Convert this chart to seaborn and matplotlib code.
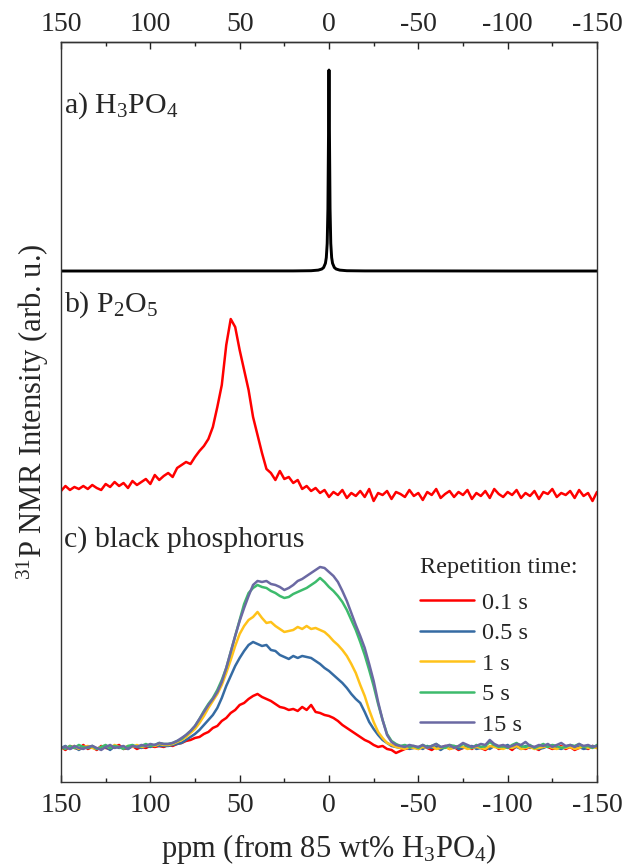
import numpy as np
import pandas as pd
import matplotlib
matplotlib.use("Agg")
import matplotlib.pyplot as plt
from matplotlib.ticker import FixedLocator, MultipleLocator
import seaborn as sns

# chemical shift grid (ppm) shared by b) and c)
ppm = np.arange(150, -150.1, -2.5)
ppm_ticks = [150, 100, 50, 0, -50, -100, -150]

# a) H3PO4, sharp line at 0 ppm
ppm_a = [150, 100, 50, 20, 10, 6, 4, 3, 2, 1.5, 1, 0.6, 0.3, 0,
         -0.3, -0.6, -1, -1.5, -2, -3, -4, -6, -10, -20, -50, -100, -150]
h3po4 = [0, 0, 0.1, 0.1, 0.3, 0.9, 2, 3.5, 7.7, 13.4, 27.7, 62, 129, 201,
         129, 62, 27.7, 13.4, 7.7, 3.5, 2, 0.9, 0.3, 0.1, 0.1, 0, 0]

# b) P2O5
p2o5 = [4, 9, 5, 8, 6, 9, 6, 10, 7, 5, 11, 8, 13, 9, 12, 7, 14, 10, 13, 16, 11, 20, 15,
        19, 22, 18, 27, 30, 33, 31, 38, 44, 49,
        56, 68, 88, 110, 150, 176, 168, 145, 125, 105,
        78, 60, 42, 26, 22, 15, 24, 16, 18, 12,
        15, 6, 9, 4, 7, 2, 5, -2,
        3, 0, 5, -3, 2, -1, 4, -2, 6, -6,
        2, 0, 4, -4, 3, 1, -2, 5, -1, 2,
        -5, 3, 0, 6, -3, 1, 4, -2, 3, 0,
        5, -4, 2, -1, 4, -3, 6, 1, -2, 3,
        0, 5, -3, 2, -1, 4, -4, 3, 1, 6,
        -2, 2, 0, 4, -3, 5, -1, 2, -6, 3]

# c) black phosphorus, different repetition times
rep_labels = ["0.1 s", "0.5 s", "1 s", "5 s", "15 s"]
bp_01 = [1, -2, 2, 0, -1, 3, -1, 1, -2, 2, 0, -1, 1, 3, -1, 0, 2, -1, 1, 0, 2, 1, 2,
         1, 3, 2, 4, 5, 7, 8, 10, 11, 14, 16, 20, 22, 27, 30, 35, 38, 43, 45, 49, 52, 54,
         51, 49, 47, 44, 41, 40, 38, 39, 37, 41, 38, 43, 36, 35, 33, 32,
         30, 27, 23, 20, 17, 14, 11, 8, 6, 3, 1, 2, -1, -2, -5, -3, -1, 0,
         1, -1, 2, 0, -2, 1, 0, 2, -1, 1, -2, 0, 1, -1, 2, 0, -2, 1, 3, -1, 0, 1, -2, 2,
         0, -1, 1, 0, -2, 2, 1, -1, 0, 2, -1, 1, -2, 0, 1, -1, 2, 0]
bp_05 = [0, 2, -1, 1, -2, 1, 0, 2, -1, 0, 1, -2, 2, 0, 1, -1, 2, 1, 0, 2, 1, 3, 2,
         2, 2, 3, 4, 5, 8, 11, 14, 18, 23, 28, 33, 40, 50, 62, 72, 82, 90, 97, 103, 106,
         104, 102, 103, 98, 97, 93, 91, 89, 92, 90, 92, 91, 90, 87, 84, 80, 77,
         73, 69, 65, 60, 54, 49, 45, 36, 26, 19, 13, 8, 5, 2, 1, 0, 2, -1,
         0, 1, -1, 2, 0, 1, -2, 1, 0, 2, -1, 0, 1, 2, -1, 0, 1, -1, 2, 0, 1, 3, 0, 1, -1,
         2, 0, 1, -1, 0, 2, 1, 0, -1, 1, 2, 0, 1, -1, 0, 2, 1]
bp_1 = [-1, 1, 0, 2, -1, 1, 2, 0, -1, 1, 2, 0, 3, 1, 0, 2, 1, 3, 1, 2, 3, 2, 4,
        3, 3, 4, 6, 8, 11, 15, 19, 25, 32, 40, 47, 54, 63, 75, 88, 102, 114, 122, 128,
        131, 136, 130, 125, 126, 122, 119, 116, 117, 118, 121, 119, 122, 119, 120, 118,
        116, 112,
        107, 103, 98, 92, 84, 75, 63, 52, 38, 26, 16, 10, 5, 3, 1, 0, -1, 1,
        0, -1, 1, 0, 2, -1, 0, 1, -1, 0, 2, 1, -1, 0, 1, 0, -1, 2, 1, 0, -1, 1, 0, 2, -1,
        0, 1, -1, 0, 1, 2, 0, -1, 1, 0, 1, -1, 0, 2, 0, 1, 0]
bp_5 = [1, -1, 2, 0, 3, 1, 0, 2, -1, 1, 3, 0, 2, 1, -1, 2, 3, 1, 2, 4, 2, 3, 5,
        4, 4, 5, 7, 9, 13, 17, 22, 29, 37, 44, 50, 58, 68, 80, 96, 112, 128, 144, 155,
        160, 163, 161, 160, 157, 155, 152, 150, 151, 154, 156, 158, 160, 163, 166, 170,
        166, 161,
        157, 152, 146, 138, 128, 118, 106, 93, 78, 62, 44, 28, 14, 7, 4, 2, 3, 1,
        2, 0, 3, 1, 2, 4, 1, 0, 3, 2, 1, 4, 2, 0, 3, 1, 2, 6, 3, 1, 2, 0, 3, 5, 2, 1, 3,
        0, 2, 4, 1, 3, 2, 0, 1, 3, 2, 4, 1, 2, 0, 3]
bp_15 = [0, 1, -1, 2, 0, -1, 1, 2, 0, -2, 1, 3, 0, 1, 2, -1, 2, 1, 3, 2, 4, 3, 5,
         4, 4, 5, 7, 10, 13, 17, 22, 29, 36, 43, 49, 56, 66, 80, 96, 112, 127, 140, 152,
         163, 167, 166, 167, 164, 163, 161, 158, 160, 163, 167, 169, 172, 175, 178, 181,
         180, 176,
         172, 166, 157, 147, 135, 123, 112, 100, 84, 67, 46, 28, 13, 6, 3, 2, 1, 3,
         2, 1, 3, 0, 2, 4, 1, 2, 3, 0, 2, 5, 3, 1, 2, 4, 3, 8, 4, 2, 3, 1, 2, 4, 3, 6, 2,
         1, 3, 2, 4, 1, 3, 5, 2, 3, 1, 4, 2, 3, 1, 2]
bp_series = [bp_01, bp_05, bp_1, bp_5, bp_15]
bp_colors = ["#ff0000", "#356ba3", "#ffc21a", "#3dbb6c", "#6b69a3"]

sns.set_theme(style="ticks")
plt.rcParams["font.family"] = ["Liberation Serif", "DejaVu Serif"]
plt.rcParams["mathtext.fontset"] = "custom"
plt.rcParams["mathtext.rm"] = "Liberation Serif"
plt.rcParams["mathtext.it"] = "Liberation Serif:italic"
plt.rcParams["mathtext.bf"] = "Liberation Serif:bold"
plt.rcParams["axes.unicode_minus"] = False
fs_tick, fs_lab, fs_panel, fs_leg = 20, 22, 21.5, 17.5

fig = plt.figure(figsize=(6.34, 8.65), dpi=100)
ax = fig.add_axes([0.0962, 0.096, 0.8454, 0.8554])

# stacking offsets
off_a, off_b, off_c = 511, 287, 34

sns.lineplot(x=ppm_a, y=np.array(h3po4) + off_a, color="black", lw=2.1,
             estimator=None, ax=ax)
sns.lineplot(x=ppm, y=np.array(p2o5) + off_b, color="#ff0000", lw=1.8,
             estimator=None, ax=ax)
for vals, col, lab in zip(bp_series, bp_colors, rep_labels):
    sns.lineplot(x=ppm, y=np.array(vals) + off_c, color=col, lw=1.8,
                 estimator=None, label=lab, ax=ax)

ax.set_xlim(150, -150)
ax.set_ylim(0, 740)
ax.set_yticks([])
ax.xaxis.set_major_locator(FixedLocator(ppm_ticks))
ax.xaxis.set_minor_locator(MultipleLocator(25))
ax.tick_params(axis="x", which="both", direction="in", top=False, bottom=True,
               labelsize=fs_tick, pad=8, color="#222222")
ax.tick_params(axis="x", which="major", length=5, width=1)
ax.tick_params(axis="x", which="minor", length=3, width=1)

# top axis with its own label spacing
top = ax.secondary_xaxis("top")
top.xaxis.set_major_locator(FixedLocator(ppm_ticks))
top.xaxis.set_minor_locator(MultipleLocator(25))
top.tick_params(axis="x", which="both", direction="in", labelsize=fs_tick, pad=3.5,
                color="#222222")
top.tick_params(axis="x", which="major", length=5, width=1)
top.tick_params(axis="x", which="minor", length=3, width=1)
for s in list(ax.spines.values()) + [top.spines["top"]]:
    s.set_color("#333333")
    s.set_linewidth(1.0)

ax.set_xlabel("ppm (from 85 wt% H$_3$PO$_4$)", fontsize=fs_lab, labelpad=10)
ax.set_ylabel("$^{31}$P NMR Intensity (arb. u.)", fontsize=fs_lab, labelpad=7)

ax.text(0.006, 0.905, "a) H$_3$PO$_4$", transform=ax.transAxes, fontsize=fs_panel,
        va="baseline", ha="left")
ax.text(0.006, 0.636, "b) P$_2$O$_5$", transform=ax.transAxes, fontsize=fs_panel,
        va="baseline", ha="left")
ax.text(0.006, 0.318, "c) black phosphorus", transform=ax.transAxes, fontsize=fs_panel,
        va="baseline", ha="left")

handles, labels = ax.get_legend_handles_labels()
leg = ax.legend(handles, labels, title="Repetition time:", loc="upper left",
                bbox_to_anchor=(0.6465, 0.32), frameon=False, fontsize=fs_leg,
                title_fontsize=fs_leg, borderpad=0, labelspacing=0.35,
                handlelength=2.25, handletextpad=0.3, alignment="left")
# a little more room under the legend title
leg._legend_box.sep = 0.35 * fs_leg + 3.5

fig.savefig("out.png", dpi=100)
